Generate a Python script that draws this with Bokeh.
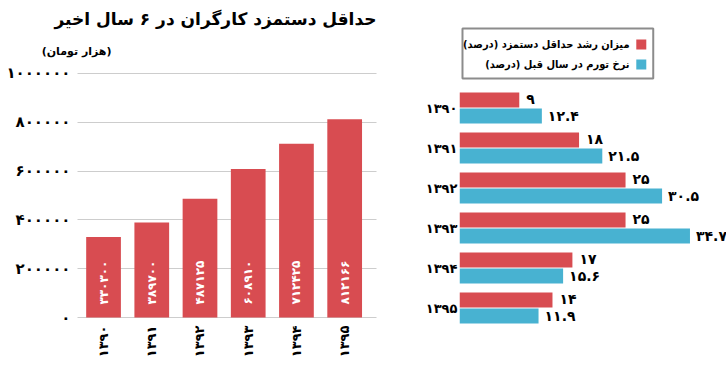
import math
from bokeh.plotting import figure
from bokeh.models import Range1d, FixedTicker, ColumnDataSource
from bokeh.layouts import row, column
from bokeh.transform import dodge
from bokeh.embed import file_html
from bokeh.resources import INLINE
from bokeh.core.properties import value

# ---------------- data ----------------
years = ["1390", "1391", "1392", "1393", "1394", "1395"]
min_wage = [330300, 389700, 487125, 608910, 712425, 812166]
wage_growth = [9, 18, 25, 25, 17, 14]
inflation = [12.4, 21.5, 30.5, 34.7, 15.6, 11.9]
wage_ticks = [0, 200000, 400000, 600000, 800000, 1000000]
title_text = "حداقل دستمزد کارگران در ۶ سال اخیر"
unit_text = "(هزار تومان)"
series_names = ["میزان رشد حداقل دستمزد (درصد)", "نرخ تورم در سال قبل (درصد)"]

RED = "#D84C51"
BLUE = "#48B2D1"
FONT = "DejaVu Sans"

FA = str.maketrans("0123456789", "۰۱۲۳۴۵۶۷۸۹")


def fa(v):
    return str(v).translate(FA)


idx = list(range(len(years)))


def bare(p):
    p.outline_line_color = None
    p.xgrid.grid_line_color = None
    p.ygrid.grid_line_color = None


def style_axis(ax, size, standoff):
    ax.major_label_text_font = FONT
    ax.major_label_text_font_style = "bold"
    ax.major_label_text_font_size = size
    ax.major_label_text_color = "black"
    ax.major_label_standoff = standoff
    ax.axis_line_color = None
    ax.major_tick_line_color = None
    ax.minor_tick_line_color = None
    ax.major_tick_out = 0
    ax.major_tick_in = 0
    ax.minor_tick_out = 0
    ax.minor_tick_in = 0


# ---------------- header (title + unit) ----------------
header = figure(width=400, height=62, output_backend="svg", toolbar_location=None,
                x_range=Range1d(0, 400), y_range=Range1d(62, 0),
                x_axis_location=None, y_axis_location=None, frame_align=False,
                min_border=0)
bare(header)
header.text(x=[215], y=[18], text=[title_text], text_align="center",
            text_baseline="middle", text_color="black", text_font=value(FONT),
            text_font_style="bold", text_font_size="17px")
header.text(x=[111], y=[51], text=[unit_text], text_align="right",
            text_baseline="middle", text_color="black", text_font=value(FONT),
            text_font_style="bold", text_font_size="11px")

# ---------------- left: minimum wage ----------------
left = figure(width=400, height=306, output_backend="svg", toolbar_location=None,
              x_range=Range1d(-0.54, 5.66), y_range=Range1d(-4000, 1004000),
              min_border_left=77, min_border_right=24, min_border_top=10,
              min_border_bottom=50, frame_align=False)
bare(left)

src = ColumnDataSource(dict(x=idx, v=min_wage, lab=[fa(v) for v in min_wage]))
left.vbar(x="x", top="v", width=0.72, source=src, fill_color=RED, line_color=None)
left.text(x="x", y=0, text="lab", source=src, angle=math.pi / 2,
          text_align="left", text_baseline="middle", y_offset=-13,
          text_color="white", text_font=value(FONT), text_font_style="bold",
          text_font_size="12px")

left.yaxis.ticker = FixedTicker(ticks=wage_ticks)
left.yaxis.major_label_overrides = {t: fa(t) for t in wage_ticks}
style_axis(left.yaxis[0], "15px", 7)
left.ygrid.grid_line_color = "#9a9a9a"
left.ygrid.grid_line_dash = "1 1"

left.xaxis.ticker = FixedTicker(ticks=idx)
left.xaxis.major_label_overrides = {i: fa(y) for i, y in zip(idx, years)}
left.xaxis.major_label_orientation = math.pi / 2
style_axis(left.xaxis[0], "13px", 7)

# ---------------- right: growth vs inflation ----------------
right = figure(width=326, height=368, output_backend="svg", toolbar_location=None,
               x_range=Range1d(0, 40.2), y_range=Range1d(6.5125, -2.6875),
               x_axis_location=None, frame_align=False,
               min_border_left=59, min_border_right=0, min_border_top=0,
               min_border_bottom=0)
bare(right)

rsrc = ColumnDataSource(dict(y=idx, g=wage_growth, inf=inflation,
                             gl=[fa(v) for v in wage_growth],
                             il=[fa(v) for v in inflation]))
right.hbar(y=dodge("y", -0.2, range=right.y_range), left=0, right="g", height=0.38,
           source=rsrc, fill_color=RED, line_color=None)
right.hbar(y=dodge("y", 0.2, range=right.y_range), left=0, right="inf", height=0.38,
           source=rsrc, fill_color=BLUE, line_color=None)
right.text(x="g", y=dodge("y", -0.2, range=right.y_range), text="gl", source=rsrc,
           x_offset=7, y_offset=-1, text_align="left", text_baseline="middle",
           text_color="black", text_font=value(FONT), text_font_style="bold",
           text_font_size="14px")
right.text(x="inf", y=dodge("y", 0.2, range=right.y_range), text="il", source=rsrc,
           x_offset=6, text_align="left", text_baseline="middle",
           text_color="black", text_font=value(FONT), text_font_style="bold",
           text_font_size="14px")

right.yaxis.ticker = FixedTicker(ticks=idx)
right.yaxis.major_label_overrides = {i: fa(y) for i, y in zip(idx, years)}
style_axis(right.yaxis[0], "13px", 2)

# manual right-to-left legend
right.quad(left=0.45, right=29.17, top=-1.9875, bottom=-0.7375,
           fill_color="white", line_color="#8c8c8c", line_width=2)
right.scatter(x=[27.37, 27.37], y=[-1.5875, -1.0875], marker="square", size=10,
              fill_color=[RED, BLUE], line_color=None)
right.text(x=[25.6, 25.6], y=[-1.5875, -1.0875], text=series_names,
           text_align="right", text_baseline="middle", text_color="black",
           text_font=value("DejaVu Sans Condensed"), text_font_style="bold",
           text_font_size="11px")

layout = row(column(header, left), right)
open("out.html", "w").write(file_html(layout, INLINE, "chart"))
